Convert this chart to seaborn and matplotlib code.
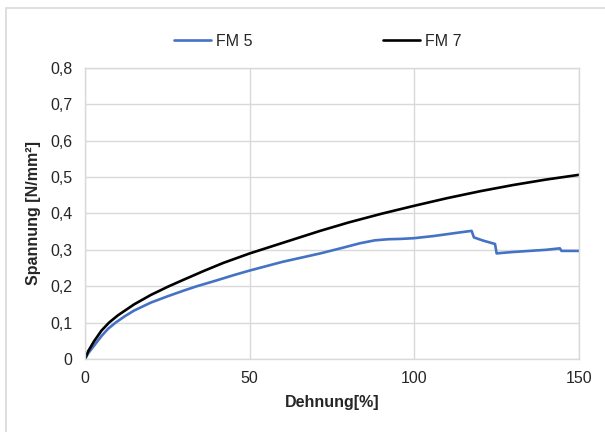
import matplotlib
matplotlib.use("Agg")
import matplotlib.pyplot as plt
import seaborn as sns
import pandas as pd
from matplotlib.patches import Rectangle
from matplotlib.ticker import FuncFormatter, MultipleLocator

fm5_strain = [0, 1, 2.7, 5, 7, 9.3, 12, 14.9, 20, 25, 30, 34, 40, 45, 50, 60, 71.4, 78, 83.5,
              88, 92, 96, 100, 102, 106, 110, 114, 117.4, 118.1, 121, 124.5, 125, 126,
              130, 135, 140, 144.2, 144.7, 150]
fm5_stress = [0, 0.016, 0.036, 0.063, 0.083, 0.1, 0.117, 0.133, 0.155, 0.172, 0.188, 0.2,
              0.216, 0.23, 0.243, 0.267, 0.29, 0.305, 0.318, 0.326, 0.329, 0.330, 0.332,
              0.334, 0.338, 0.343, 0.348, 0.352, 0.334, 0.325, 0.316, 0.29, 0.291, 0.294,
              0.297, 0.300, 0.304, 0.297, 0.297]

fm7_strain = [0, 1, 2.7, 5, 7.3, 10, 14.9, 20, 25.5, 30, 36.1, 42, 50, 60, 71.4, 80, 90, 100,
              110, 120, 130, 140, 150]
fm7_stress = [0, 0.022, 0.048, 0.078, 0.1, 0.12, 0.15, 0.176, 0.2, 0.218, 0.242, 0.264, 0.29,
              0.319, 0.352, 0.375, 0.399, 0.421, 0.442, 0.461, 0.478, 0.493, 0.506]

df = pd.concat([
    pd.DataFrame({"Dehnung": fm5_strain, "Spannung": fm5_stress, "Serie": "FM 5"}),
    pd.DataFrame({"Dehnung": fm7_strain, "Spannung": fm7_stress, "Serie": "FM 7"}),
])

sns.set_style("white")
plt.rcParams["font.family"] = ["Liberation Sans", "DejaVu Sans"]

fig = plt.figure(figsize=(6.05, 4.32), dpi=100)
ax = fig.add_axes([0.1405, 0.169, 0.8165, 0.674])

fig.patches.append(Rectangle((6 / 605, -0.1), 1.2, (432 - 8) / 432 + 0.1, transform=fig.transFigure,
                             fill=False, edgecolor="#d9d9d9", linewidth=1.2))

sns.lineplot(data=df, x="Dehnung", y="Spannung", hue="Serie", palette=["#4472c4", "#000000"],
             linewidth=1.9, sort=False, estimator=None, ax=ax)

ax.set_xlim(0, 150)
ax.set_ylim(0, 0.8)
ax.xaxis.set_major_locator(MultipleLocator(50))
ax.yaxis.set_major_locator(MultipleLocator(0.1))
ax.yaxis.set_major_formatter(FuncFormatter(lambda v, p: "0" if abs(v) < 1e-9 else f"{v:.1f}".replace(".", ",")))
ax.grid(True, color="#d9d9d9", linewidth=1)
for s in ax.spines.values():
    s.set_color("#d9d9d9")
    s.set_linewidth(1)
ax.tick_params(axis="both", length=0, labelsize=11.5, colors="#262626", pad=9)
ax.set_xlabel("Dehnung[%]", fontsize=11.5, fontweight="bold", labelpad=6)
ax.set_ylabel("Spannung [N/mm²]", fontsize=11.5, fontweight="bold", labelpad=7)

ax.legend(loc="center", bbox_to_anchor=(318 / 605, 1 - 41 / 432), bbox_transform=fig.transFigure,
          ncol=2, frameon=False, fontsize=11.5, handlelength=2.3, columnspacing=8.2,
          handletextpad=0.3)

fig.savefig("out.png", dpi=100)
